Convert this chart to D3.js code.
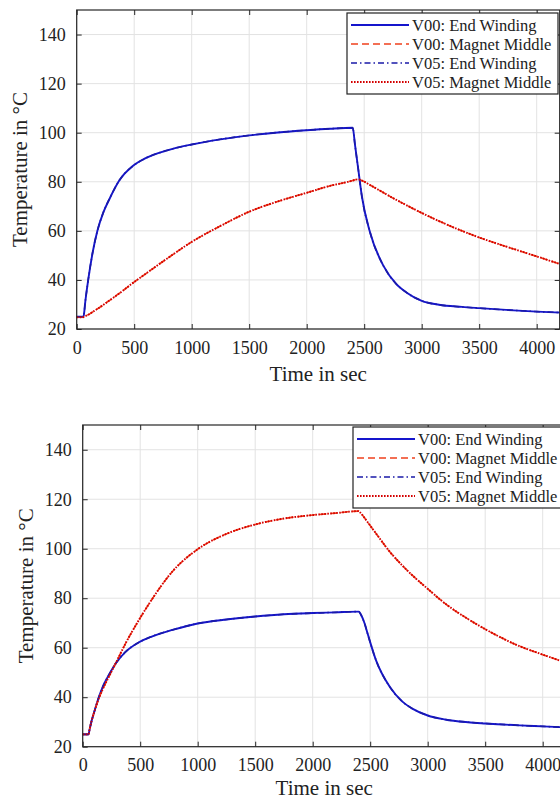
<!DOCTYPE html>
<html>
<head>
<meta charset="utf-8">
<script src="https://cdn.jsdelivr.net/npm/d3@7"></script>
<style>
  body { margin: 0; background: #fff; }
  svg { display: block; }
  svg text { font-family: 'Liberation Serif', 'Times New Roman', serif !important; fill: #222; }
</style>
</head>
<body>
<svg id="chart" width="560" height="802"></svg>
<script>
// Sample times (s) shared by every curve
const timeSec = [0, 50, 60, 75, 100, 140, 180, 230, 290, 370, 490, 600, 780, 1000, 1250, 1500, 1750, 2000, 2200, 2400,
                 2420, 2450, 2480, 2550, 2670, 2780, 2870, 3000, 3150, 3350, 3500, 3800, 4000, 4200];

// Upper panel temperatures (°C)
const upperEndWindingV00 = [25, 25, 25.3, 31.3, 40, 51.5, 60, 67.3, 73.5, 80.5, 86.5, 89.6, 92.7, 95.2, 97.3, 98.9, 100.1, 101, 101.6, 102,
                            95, 84.5, 74, 59.5, 45.5, 38.3, 34.8, 31.5, 29.9, 29, 28.5, 27.6, 27.1, 26.7];
const upperMagnetMiddleV00 = [24.8, 24.8, 24.9, 25.2, 25.8, 27, 28.2, 29.8, 31.8, 34.5, 38.8, 42.5, 48.5, 55.5, 62, 67.8, 72, 75.5, 78.3, 80.5,
                              80.8, 81, 80.5, 78.7, 75.5, 72.6, 70.4, 67.3, 64, 60, 57.3, 52.6, 49.6, 46.5];
const upperEndWindingV05 = [25, 25, 25.3, 31.3, 40, 51.5, 60, 67.3, 73.5, 80.5, 86.5, 89.6, 92.7, 95.2, 97.3, 98.9, 100.1, 101, 101.6, 102,
                            95, 84.5, 74, 59.5, 45.5, 38.3, 34.8, 31.5, 29.9, 29, 28.5, 27.6, 27.1, 26.7];
const upperMagnetMiddleV05 = [24.8, 24.8, 24.9, 25.2, 25.8, 27, 28.2, 29.8, 31.8, 34.5, 38.8, 42.5, 48.5, 55.5, 62, 67.8, 72, 75.5, 78.3, 80.5,
                              80.8, 81, 80.5, 78.7, 75.5, 72.6, 70.4, 67.3, 64, 60, 57.3, 52.6, 49.6, 46.5];

// Lower panel temperatures (°C)
const lowerEndWindingV00 = [25, 25, 27, 30, 34, 40, 44.8, 49.2, 53.8, 58.2, 62.2, 64.5, 67.2, 69.8, 71.4, 72.6, 73.5, 74, 74.3, 74.6,
                            73.3, 70, 65.3, 55, 44.2, 38.2, 35.3, 32.6, 31, 29.9, 29.4, 28.6, 28.2, 27.8];
const lowerMagnetMiddleV00 = [25, 25, 27, 30, 34, 39.5, 43.8, 48.5, 54, 61.5, 71.3, 79.4, 90.8, 99.8, 106, 109.8, 112.2, 113.6, 114.4, 115.2,
                              114.3, 112.5, 110.6, 106.2, 98.8, 93.2, 89.1, 83.8, 77.9, 71.6, 67.5, 60.6, 57.2, 54];
const lowerEndWindingV05 = [25, 25, 27, 30, 34, 40, 44.8, 49.2, 53.8, 58.2, 62.2, 64.5, 67.2, 69.8, 71.4, 72.6, 73.5, 74, 74.3, 74.6,
                            73.3, 70, 65.3, 55, 44.2, 38.2, 35.3, 32.6, 31, 29.9, 29.4, 28.6, 28.2, 27.8];
const lowerMagnetMiddleV05 = [25, 25, 27, 30, 34, 39.5, 43.8, 48.5, 54, 61.5, 71.3, 79.4, 90.8, 99.8, 106, 109.8, 112.2, 113.6, 114.4, 115.2,
                              114.3, 112.5, 110.6, 106.2, 98.8, 93.2, 89.1, 83.8, 77.9, 71.6, 67.5, 60.6, 57.2, 54];

const seriesNames = ["V00: End Winding", "V00: Magnet Middle", "V05: End Winding", "V05: Magnet Middle"];
const xTickValues = [0, 500, 1000, 1500, 2000, 2500, 3000, 3500, 4000];
const yTickValues = [20, 40, 60, 80, 100, 120, 140];
const xDomain = [0, 4200];
const yDomain = [20, 150];
const xLabel = "Time in sec";
const yLabel = "Temperature in °C";

// Line looks, in legend order
const lineStyles = [
  { color: "#1515cc", dash: null, width: 1.9 },
  { color: "#f0401c", dash: "7,4", width: 1.6 },
  { color: "#1a1aa8", dash: "6,3,1.5,3", width: 1.6 },
  { color: "#d40000", dash: "1.6,1.4", width: 1.9 }
];

const svg = d3.select("#chart");
svg.append("rect").attr("width", 560).attr("height", 802).attr("fill", "#fff");

function drawPanel(frame, series) {
  const g = svg.append("g");
  const x = d3.scaleLinear().domain(xDomain).range([frame.left, frame.right]);
  const y = d3.scaleLinear().domain(yDomain).range([frame.bottom, frame.top]);

  // grid
  g.append("g").selectAll("line").data(xTickValues).join("line")
    .attr("x1", d => x(d)).attr("x2", d => x(d))
    .attr("y1", frame.top).attr("y2", frame.bottom)
    .attr("stroke", "#e3e3e3").attr("stroke-width", 1);
  g.append("g").selectAll("line").data(yTickValues).join("line")
    .attr("x1", frame.left).attr("x2", frame.right)
    .attr("y1", d => y(d)).attr("y2", d => y(d))
    .attr("stroke", "#e3e3e3").attr("stroke-width", 1);

  // curves
  const line = d3.line()
    .x((d, i) => x(timeSec[i]))
    .y(d => y(d))
    .curve(d3.curveMonotoneX);
  series.forEach((vals, k) => {
    const st = lineStyles[k];
    g.append("path").datum(vals)
      .attr("d", line)
      .attr("fill", "none")
      .attr("stroke", st.color)
      .attr("stroke-width", st.width)
      .attr("stroke-dasharray", st.dash);
  });

  // axes (inward ticks on all four sides)
  const axisColor = "#262626";
  const bottom = g.append("g").attr("transform", `translate(0,${frame.bottom})`)
    .call(d3.axisBottom(x).tickValues(xTickValues).tickSize(-5).tickPadding(12).tickFormat(d3.format("d")));
  const top = g.append("g").attr("transform", `translate(0,${frame.top})`)
    .call(d3.axisTop(x).tickValues(xTickValues).tickSize(-5).tickFormat(""));
  const left = g.append("g").attr("transform", `translate(${frame.left},0)`)
    .call(d3.axisLeft(y).tickValues(yTickValues).tickSize(-5).tickPadding(11));
  const right = g.append("g").attr("transform", `translate(${frame.right},0)`)
    .call(d3.axisRight(y).tickValues(yTickValues).tickSize(-5).tickFormat(""));
  [bottom, top, left, right].forEach(a => {
    a.select(".domain").remove();
    a.selectAll(".tick line").attr("stroke", axisColor);
    a.selectAll("text").attr("font-size", 18);
  });
  g.append("rect")
    .attr("x", frame.left).attr("y", frame.top)
    .attr("width", frame.right - frame.left).attr("height", frame.bottom - frame.top)
    .attr("fill", "none").attr("stroke", axisColor).attr("stroke-width", 1.2);

  // axis titles
  g.append("text")
    .attr("x", (frame.left + frame.right) / 2).attr("y", frame.bottom + frame.titleGap)
    .attr("text-anchor", "middle").attr("font-size", 21)
    .text(xLabel);
  g.append("text")
    .attr("transform", `translate(${frame.left - 50},${(frame.top + frame.bottom) / 2}) rotate(-90)`)
    .attr("text-anchor", "middle").attr("font-size", 21)
    .text(yLabel);

  // legend
  const lg = g.append("g").attr("transform", `translate(${frame.legendX},${frame.legendY})`);
  lg.append("rect").attr("width", 211).attr("height", 81)
    .attr("fill", "#fff").attr("stroke", "#222").attr("stroke-width", 1.2);
  seriesNames.forEach((name, k) => {
    const st = lineStyles[k];
    const cy = 12 + k * 19;
    lg.append("line").attr("x1", 4).attr("x2", 62).attr("y1", cy).attr("y2", cy)
      .attr("stroke", st.color).attr("stroke-width", st.width).attr("stroke-dasharray", st.dash);
    lg.append("text").attr("x", 65).attr("y", cy + 5.5)
      .attr("font-size", 16.5)
      .text(name);
  });
}

drawPanel({ left: 76.7, right: 559.7, top: 10, bottom: 329, legendX: 347, legendY: 13, titleGap: 52 },
          [upperEndWindingV00, upperMagnetMiddleV00, upperEndWindingV05, upperMagnetMiddleV05]);
drawPanel({ left: 82.7, right: 565.7, top: 425, bottom: 746.7, legendX: 353, legendY: 427, titleGap: 48.5 },
          [lowerEndWindingV00, lowerMagnetMiddleV00, lowerEndWindingV05, lowerMagnetMiddleV05]);
</script>
</body>
</html>
